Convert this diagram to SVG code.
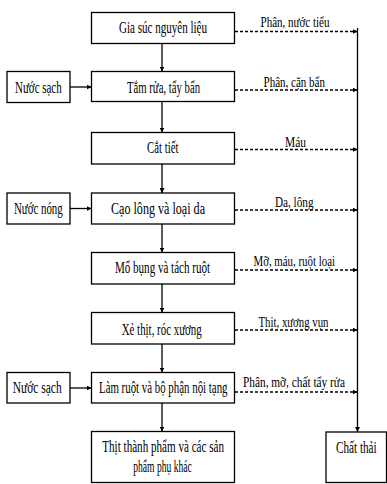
<svg xmlns="http://www.w3.org/2000/svg" width="387" height="484" viewBox="0 0 387 484">
<defs>
<marker id="ah" viewBox="0 0 10 10" refX="10" refY="5" markerWidth="5" markerHeight="5" markerUnits="userSpaceOnUse" orient="auto">
<path d="M0,0 L10,5 L0,10 z" fill="#000"/>
</marker>
<style>
rect{fill:#fff;stroke:#000;stroke-width:1.3}
text{font-family:"Liberation Serif","Times New Roman",serif;font-size:16px;fill:#000}
.lbl{font-size:15px}
.solid{stroke:#000;stroke-width:1.3;fill:none;marker-end:url(#ah)}
.dash{stroke:#000;stroke-width:1.3;fill:none;stroke-dasharray:3 2;marker-end:url(#ah)}
</style>
</defs>
<rect x="0" y="0" width="387" height="484" style="fill:#fff;stroke:none"/>
<g id="connectors">
<line class="solid" x1="162" y1="43.5" x2="162" y2="71.5"/>
<line class="solid" x1="162" y1="101.5" x2="162" y2="132.5"/>
<line class="solid" x1="162" y1="164" x2="162" y2="193"/>
<line class="solid" x1="162" y1="224" x2="162" y2="252.5"/>
<line class="solid" x1="162" y1="284" x2="162" y2="312.5"/>
<line class="solid" x1="162" y1="344" x2="162" y2="372.5"/>
<line class="solid" x1="162" y1="403" x2="162" y2="431.5"/>
<line class="solid" x1="70" y1="87" x2="91.5" y2="87"/>
<line class="solid" x1="70" y1="208.5" x2="91.5" y2="208.5"/>
<line class="solid" x1="70" y1="388" x2="91.5" y2="388"/>
<line class="solid" x1="357.5" y1="28" x2="357.5" y2="432"/>
<line class="dash" x1="235" y1="31.5" x2="357.5" y2="31.5"/>
<line class="dash" x1="235" y1="90" x2="357.5" y2="90"/>
<line class="dash" x1="235" y1="149.5" x2="357.5" y2="149.5"/>
<line class="dash" x1="235" y1="210" x2="357.5" y2="210"/>
<line class="dash" x1="235" y1="270" x2="357.5" y2="270"/>
<line class="dash" x1="235" y1="330" x2="357.5" y2="330"/>
<line class="dash" x1="235" y1="392" x2="357.5" y2="392"/>
<text class="lbl" x="260.5" y="26.5" textLength="69" lengthAdjust="spacingAndGlyphs">Phân, nước tiểu</text>
<text class="lbl" x="263.5" y="87" textLength="61.5" lengthAdjust="spacingAndGlyphs">Phân, cặn bẩn</text>
<text class="lbl" x="285" y="146.5" textLength="21" lengthAdjust="spacingAndGlyphs">Máu</text>
<text class="lbl" x="275" y="207" textLength="38.5" lengthAdjust="spacingAndGlyphs">Da, lông</text>
<text class="lbl" x="253.5" y="266" textLength="81.5" lengthAdjust="spacingAndGlyphs">Mỡ, máu, ruột loại</text>
<text class="lbl" x="258.5" y="327" textLength="70" lengthAdjust="spacingAndGlyphs">Thịt, xương vụn</text>
<text class="lbl" x="243" y="386.5" textLength="102" lengthAdjust="spacingAndGlyphs">Phân, mỡ, chất tẩy rửa</text>
</g>
<g id="n1"><rect x="91.5" y="12.5" width="143" height="31"/><text x="119" y="33.3" textLength="88" lengthAdjust="spacingAndGlyphs">Gia súc nguyên liệu</text></g>
<g id="n2"><rect x="91.5" y="71.5" width="143" height="30"/><text x="127" y="93.3" textLength="73" lengthAdjust="spacingAndGlyphs">Tắm rửa, tẩy bẩn</text></g>
<g id="n3"><rect x="91.5" y="132.5" width="143" height="31.5"/><text x="147" y="153.3" textLength="31.5" lengthAdjust="spacingAndGlyphs">Cắt tiết</text></g>
<g id="n4"><rect x="91.5" y="193" width="143" height="31"/><text x="111" y="214" textLength="94" lengthAdjust="spacingAndGlyphs">Cạo lông và loại da</text></g>
<g id="n5"><rect x="91.5" y="252.5" width="143" height="31.5"/><text x="115" y="273.3" textLength="95" lengthAdjust="spacingAndGlyphs">Mổ bụng và tách ruột</text></g>
<g id="n6"><rect x="91.5" y="312.5" width="143" height="31.5"/><text x="121.7" y="335" textLength="80" lengthAdjust="spacingAndGlyphs">Xẻ thịt, róc xương</text></g>
<g id="n7"><rect x="91.5" y="372.5" width="143" height="30.5"/><text x="99" y="393.3" textLength="128.5" lengthAdjust="spacingAndGlyphs">Làm ruột và bộ phận nội tạng</text></g>
<g id="n8"><rect x="91.5" y="431.5" width="143" height="51"/><text x="102.3" y="452.3" textLength="121.7" lengthAdjust="spacingAndGlyphs">Thịt thành phẩm và các sản</text><text x="133.3" y="471.7" textLength="58.4" lengthAdjust="spacingAndGlyphs">phẩm phụ khác</text></g>
<g id="w1"><rect x="7" y="71.5" width="63" height="31"/><text x="15" y="93.3" textLength="46.7" lengthAdjust="spacingAndGlyphs">Nước sạch</text></g>
<g id="w2"><rect x="7" y="193" width="63" height="31"/><text x="14" y="214" textLength="48.7" lengthAdjust="spacingAndGlyphs">Nước nóng</text></g>
<g id="w3"><rect x="7" y="372.5" width="63" height="30.5"/><text x="12.7" y="393.3" textLength="49" lengthAdjust="spacingAndGlyphs">Nước sạch</text></g>
<g id="waste"><rect x="326" y="432" width="60.5" height="50.5"/><text x="336" y="453.3" textLength="40.7" lengthAdjust="spacingAndGlyphs">Chất thải</text></g>
</svg>
